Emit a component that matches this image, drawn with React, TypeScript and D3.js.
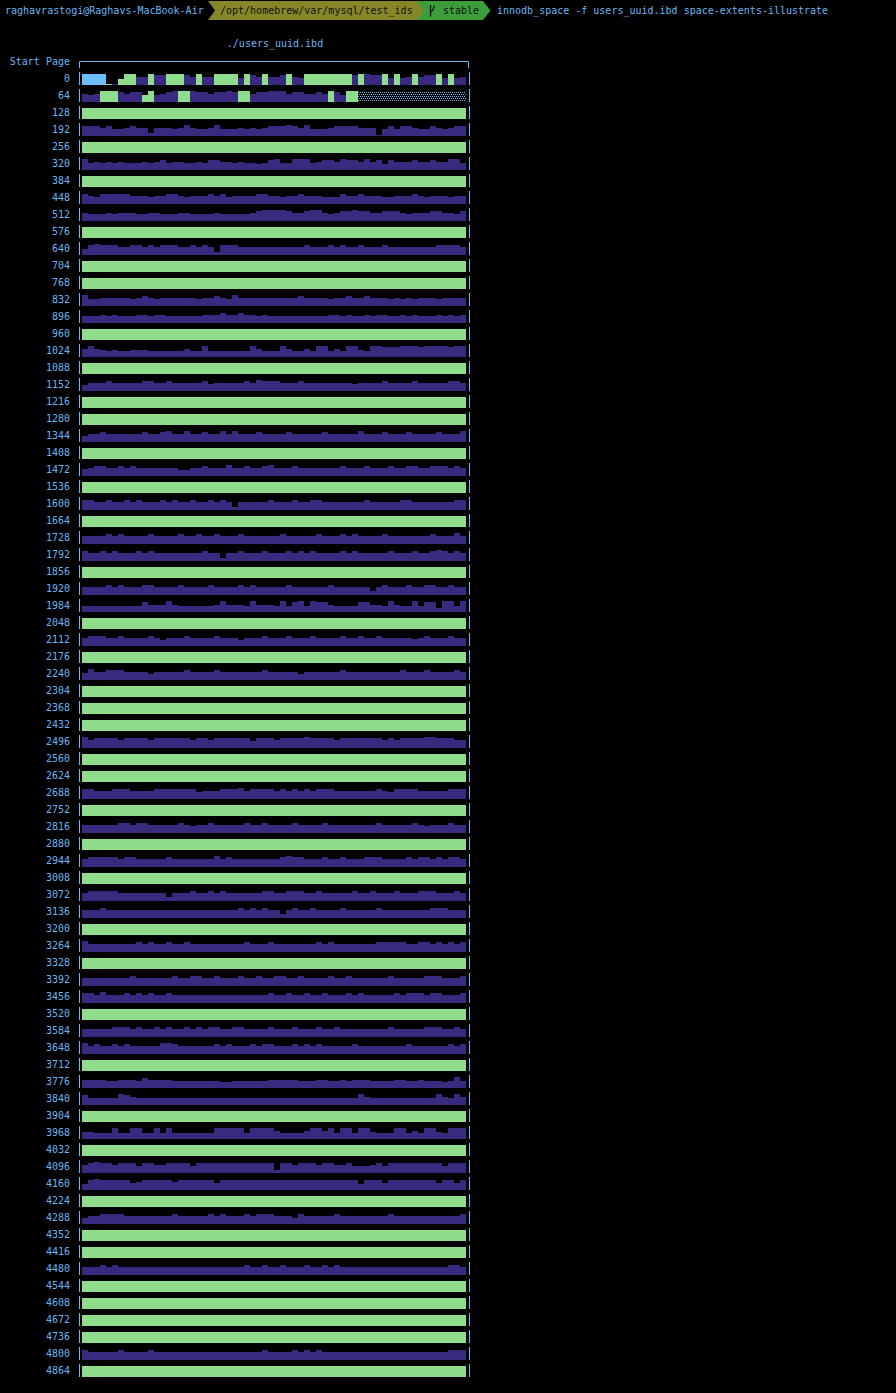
import React from "react";
import * as d3 from "d3";

// ---- data ----
const startPages = [
  0, 64, 128, 192, 256, 320, 384, 448, 512, 576, 640, 704, 768, 832, 896, 960,
  1024, 1088, 1152, 1216, 1280, 1344, 1408, 1472, 1536, 1600, 1664, 1728, 1792,
  1856, 1920, 1984, 2048, 2112, 2176, 2240, 2304, 2368, 2432, 2496, 2560, 2624,
  2688, 2752, 2816, 2880, 2944, 3008, 3072, 3136, 3200, 3264, 3328, 3392, 3456,
  3520, 3584, 3648, 3712, 3776, 3840, 3904, 3968, 4032, 4096, 4160, 4224, 4288,
  4352, 4416, 4480, 4544, 4608, 4672, 4736, 4800, 4864,
];

// first two extents: page type per page (B = system, G = index, P = data, F = free) and fill in eighths
const row0Types = "BBBBGPGG GPPGPPGG GPPGPPGG GGPGPPGP PPGPPGGG GGGGGPGP PPGPGPPG PPPGPGPP";
const row0Levels = "88881148 86687788 87686688 88587686 67865888 88888788 77858568 67785856";
const row64Types = "PPPGGGPP PPGGPPPP GGPPPPPP PPGGPPPP PPPPPPPP PGPPGGFF FFFFFFFF FFFFFFFF";
const row64Levels = "65688876 77585678 88877677 87886778 88677667 68758888 88888888 88888888";

// data-page rows: start page and per-page fill level (eighths); every other row is fully green
const purpleStarts = [
  192, 320, 448, 512, 640, 832, 896, 1024, 1152, 1344, 1472, 1600, 1728, 1792,
  1920, 1984, 2112, 2240, 2496, 2688, 2816, 2944, 3072, 3136, 3264, 3392, 3456,
  3584, 3648, 3776, 3840, 3968, 4096, 4160, 4288, 4480, 4800,
];
const purpleLevels = [
  "77767556 76626665 68655685 55656567 77876855 56777766 61575776 55765677",
  "8565656555 6567566556 5776656554 5785588856 7768776867 4766676676 6885",
  "76577777 66656677 65666767 56666776 65667666 55576676 66556667 65666566",
  "65556566 65566555 66555565 55556788 88766788 65677877 66777656 66776657",
  "47877766 77676777 66767627 77666666 66666766 67676676 66766666 66677776",
  "85566666 56765666 66656676 58666666 66667666 65667667 66656565 66656666",
  "55565655 56656655 55556667 66766565 55555555 56656556 56655656 55565656",
  "68654544 55544444 46448444 44448644 48644648 84648854 88777888 78888788",
  "46667666 66776676 66667566 66676877 76667666 66666566 66766667 66666776",
  "46676666 66766786 68667668 68666766 66766666 76666686 66766676 66676668",
  "56776676 76666666 44667666 86676678 66676666 66676667 66676677 66777676",
  "77667667 67666767 66766767 62666667 66676677 66666667 66666776 66666677",
  "66667676 66676666 76676676 66766666 67666667 66676766 66766666 66766686",
  "76676766 67676666 66667662 66766676 66767676 66676766 66676667 66787676",
  "66667676 66776666 76666766 66767666 66766666 67666666 36766676 67766766",
  "44444444 44755585 44444458 55548555 48478487 75444477 55485448 47738848",
  "67776676 66676466 67666676 66466676 66766676 66676676 67666665 67666766",
  "58667776 66646666 67666676 66666676 66664666 66676666 66666766 67666676",
  "86777767 77767777 77677677 77775777 67777877 77677777 77676777 78877766",
  "77666777 66667777 77756667 77867777 67676767 77666666 67657777 66666777",
  "66666677 67766666 76566766 66676676 66676666 76666666 67666667 65666766",
  "67777767 76666676 66666686 76666666 67877666 76676667 77666676 77676776",
  "67777766 66666636 66766767 66666677 66777667 66666766 76667666 77766676",
  "66676666 66666666 66666666 66767676 63676676 66676666 67666666 66777666",
  "86666666 67676676 67666666 66676667 66666667 67666666 67777766 77676767",
  "66666666 76666667 66776676 66766766 77667666 67667666 66676666 67776667",
  "77686667 67676676 66666666 66666667 66766766 76667676 66667677 76776667",
  "66666777 67667676 67676776 67766667 66676667 66766666 66676666 67776676",
  "86766767 66666887 66666676 76667677 66676767 66666766 66666676 66666767",
  "66665566 65766665 55555554 45555556 66665556 65565666 55556655 65554585",
  "75555587 65555555 55555555 55555555 55555555 55555586 55555555 55586586",
  "55444844 88448484 44444488 88848888 64444688 68488488 54448846 48854888",
  "67877677 75776677 77577777 77777777 27767776 77667555 67577777 77775777",
  "47877777 56777776 77777757 77777777 77777777 77777747 77577777 77757757",
  "46677776 66666667 66666767 66676777 66647666 66766666 66676666 66666667",
  "66676766 66666666 66666666 66676676 67666766 76766666 66666666 66666776",
  "76666676 66676666 66666666 66666676 66676767 66666666 66666666 66666777",
];

const promptUser = "raghavrastogi@Raghavs-MacBook-Air";
const promptPath = "/opt/homebrew/var/mysql/test_ids";
const promptBranch = "stable";
const command = "innodb_space -f users_uuid.ibd space-extents-illustrate";
const title = "./users_uuid.ibd";
const axisTitle = "Start Page";

// ---- style ----
const W = 896;
const H = 1393;
const FONT = "'DejaVu Sans Mono', 'Liberation Mono', monospace";
const C = {
  bg: "#000000",
  text: "#69b6f1",
  line: "#72b9ea",
  sys: "#6cbefa",
  index: "#8edc8c",
  data: "#3a2a7f",
  free: "#6cbefa",
  olive: "#878729",
  branch: "#3c9e3a",
  dark: "#111111",
};

type Cell = { t: string; v: number };

function clean(s: string) {
  return s.replace(/\s+/g, "");
}

function buildRows(): { start: number; cells: Cell[] }[] {
  const purpleMap = new Map<number, string>();
  purpleStarts.forEach((s, i) => purpleMap.set(s, clean(purpleLevels[i])));
  return startPages.map((start) => {
    let cells: Cell[];
    if (start === 0 || start === 64) {
      const t = clean(start === 0 ? row0Types : row64Types);
      const l = clean(start === 0 ? row0Levels : row64Levels);
      cells = t.split("").map((c, i) => ({ t: c, v: +l[i] }));
    } else if (purpleMap.has(start)) {
      cells = purpleMap.get(start)!.split("").map((c) => ({ t: "P", v: +c }));
    } else {
      cells = d3.range(64).map(() => ({ t: "G", v: 8 }));
    }
    return { start, cells };
  });
}

export default function App() {
  const rows = buildRows();
  const x = d3.scaleBand<number>().domain(d3.range(64)).range([82, 466]).padding(0);
  const y = d3
    .scaleBand<number>()
    .domain(startPages)
    .range([68, 68 + 17 * startPages.length])
    .padding(0);
  const h = d3.scaleLinear().domain([0, 8]).range([0, 11]);
  const colorOf = (t: string) =>
    t === "B" ? C.sys : t === "G" ? C.index : t === "P" ? C.data : C.free;

  return (
    <svg
      width={W}
      height={H}
      style={{ position: "absolute", left: 0, top: 0, display: "block", background: C.bg }}
      fontFamily={FONT}
      fontSize={10}
    >
      <defs>
        <pattern id="freeDots" width={4} height={4} patternUnits="userSpaceOnUse">
          <rect x={0} y={0} width={1} height={1} fill={C.free} />
          <rect x={2} y={0} width={1} height={1} fill={C.free} />
          <rect x={1} y={2} width={1} height={1} fill={C.free} />
          <rect x={3} y={2} width={1} height={1} fill={C.free} />
        </pattern>
      </defs>
      <rect x={0} y={0} width={W} height={H} fill={C.bg} />

      {/* prompt line */}
      <text x={5} y={13.5} fill={C.text}>{promptUser}</text>
      <rect x={208} y={1} width={210} height={19} fill={C.olive} />
      <path d="M208,1 L215,10.5 L208,20 Z" fill={C.bg} />
      <text x={220} y={13.5} fill={C.dark}>{promptPath}</text>
      <rect x={417} y={1} width={66} height={19} fill={C.branch} />
      <path d="M417,1 L424,10.5 L417,20 Z" fill={C.olive} />
      <path d="M430.5,5 V16.5 M430.5,12 Q434,10 434,5.5" stroke={C.dark} strokeWidth={1.3} fill="none" />
      <text x={443} y={13.5} fill={C.dark}>{promptBranch}</text>
      <path d="M483,1 L490.5,10.5 L483,20 Z" fill={C.branch} />
      <text x={497} y={13.5} fill={C.text}>{command}</text>

      {/* titles */}
      <text x={275} y={46.5} fill={C.text} textAnchor="middle">{title}</text>
      <text x={70} y={64.5} fill={C.text} textAnchor="end">{axisTitle}</text>
      <path d="M79.5,68 V61.5 H468.5 V68" stroke={C.line} fill="none" strokeWidth={1} />

      {rows.map((r) => {
        const bottom = (y(r.start) as number) + 17;
        return (
          <g key={r.start}>
            <text x={70} y={bottom - 3} fill={C.text} textAnchor="end">{r.start}</text>
            <line x1={79.5} x2={79.5} y1={bottom - 13} y2={bottom} stroke={C.line} strokeWidth={1} />
            <line x1={469.5} x2={469.5} y1={bottom - 13} y2={bottom} stroke={C.line} strokeWidth={1} />
            {r.cells.map((c, i) => {
              const hh = c.t === "F" ? 11 : Math.round(h(c.v));
              return (
                <rect
                  key={i}
                  x={x(i)}
                  y={bottom - hh}
                  width={x.bandwidth()}
                  height={hh}
                  fill={c.t === "F" ? "url(#freeDots)" : colorOf(c.t)}
                  shapeRendering="crispEdges"
                />
              );
            })}
          </g>
        );
      })}
    </svg>
  );
}
